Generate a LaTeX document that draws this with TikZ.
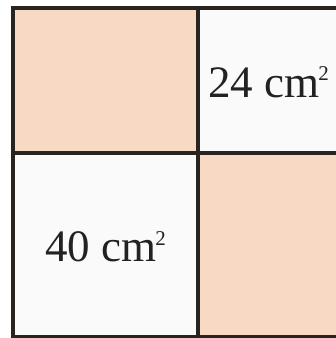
\documentclass[tikz,border=0pt]{standalone}
\usepackage{fontspec}
\setmainfont{Liberation Serif}
\definecolor{peach}{HTML}{F8DAC4}
\definecolor{paper}{HTML}{FAFAFA}
\definecolor{linec}{HTML}{2A2420}
\definecolor{textc}{HTML}{222222}
\newcommand{\areatext}[1]{\fontsize{45}{50}\selectfont #1 cm\kern-1pt\raisebox{17pt}{\fontsize{21}{21}\selectfont 2}}
\begin{document}
\begin{tikzpicture}[x=1pt,y=1pt,
  border/.style={draw=linec, line width=3.5pt},
  lbl/.style={inner sep=0pt, anchor=base west, text=textc}]
\useasboundingbox (0,0) rectangle (336,338);
\fill[white] (0,0) rectangle (336,338);
\begin{scope}
\clip (0,0) rectangle (336,338);
\fill[peach] (13,185) rectangle (198,330);
\fill[paper] (198,185) rectangle (345,330);
\fill[paper] (13,1) rectangle (198,185);
\fill[peach] (198,1) rectangle (345,185);
\coordinate (tl) at (13,330);
\coordinate (tr) at (345,330);
\coordinate (bl) at (13,1);
\coordinate (br) at (345,1);
\coordinate (mt) at (198,330);
\coordinate (mb) at (198,1);
\coordinate (ml) at (13,185);
\coordinate (mr) at (345,185);
\draw[border] (tr) -- (tl) -- (bl) -- (br);
\draw[border] (mt) -- (mb);
\draw[border] (ml) -- (mr);
\end{scope}
\node[lbl] (a24) at (208,240) {\areatext{24}};
\node[lbl] (a40) at (45,76) {\areatext{40}};
\end{tikzpicture}
\end{document}
